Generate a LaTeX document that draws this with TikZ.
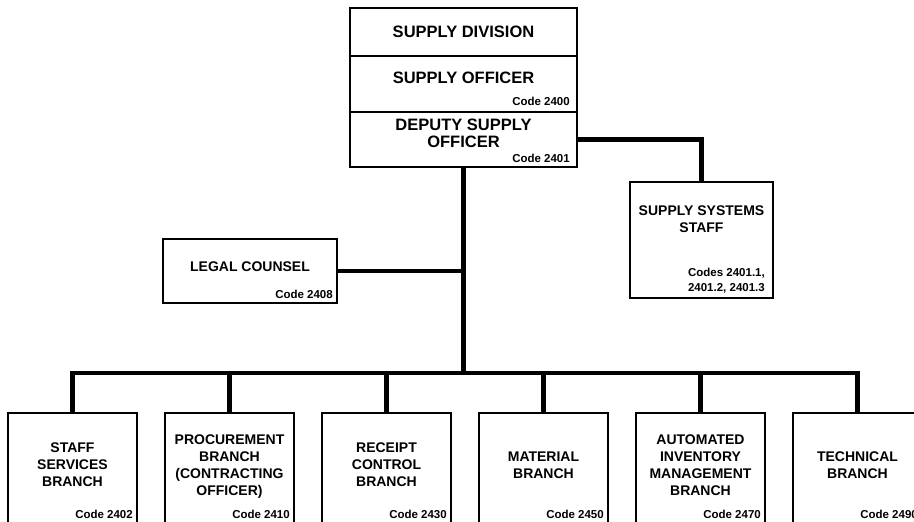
\documentclass[tikz,border=0pt]{standalone}
\usepackage{fontspec}
\setmainfont{Liberation Sans}
\usepackage{tikz}
\usetikzlibrary{positioning}

\begin{document}
\begin{tikzpicture}[
  x=1pt, y=1pt,
  node distance=0pt and 28pt,
  box/.style={rectangle, draw, line width=1.3pt, align=center, inner sep=0pt,
    outer sep=0pt, font=\bfseries\fontsize{14}{17}\selectfont},
  head/.style={box, minimum width=227pt, font=\bfseries\fontsize{16.5}{17}\selectfont},
  branch/.style={box, minimum width=129pt, minimum height=112pt, text depth=8pt},
  code/.style={anchor=south east, inner sep=0pt, align=right,
    font=\bfseries\fontsize{11.5}{14.5}\selectfont},
  link/.style={line width=4.5pt}
]
  \useasboundingbox (0,0) rectangle (914,522);

  % head of the division
  \node[head, minimum height=48pt] (sdiv) at (463.5,490) {SUPPLY DIVISION};
  \node[head, minimum height=56pt, text depth=12pt, below=of sdiv] (so) {SUPPLY OFFICER};
  \node[head, minimum height=55pt, text depth=12pt, below=of so] (dso) {DEPUTY SUPPLY\\OFFICER};
  \node[code] (c2400) at ([shift={(-7,6)}]so.south east) {Code 2400};
  \node[code] (c2401) at ([shift={(-7,4)}]dso.south east) {Code 2401};

  % staff
  \node[box, minimum width=143pt, minimum height=116pt, text depth=41pt] (sss) at (701.5,282) {SUPPLY SYSTEMS\\STAFF};
  \node[code] (csss) at ([shift={(-8,5)}]sss.south east) {Codes 2401.1,\\2401.2, 2401.3};
  \node[box, minimum width=174pt, minimum height=64pt, text depth=8pt] (legal) at (250,251) {LEGAL COUNSEL};
  \node[code] (c2408) at ([shift={(-4,4)}]legal.south east) {Code 2408};

  % branches
  \node[branch] (ssb) at (72.5,53) {STAFF\\SERVICES\\BRANCH};
  \node[branch, right=of ssb] (pb) {PROCUREMENT\\BRANCH\\(CONTRACTING\\OFFICER)};
  \node[branch, right=of pb] (rcb) {RECEIPT\\CONTROL\\BRANCH};
  \node[branch, right=of rcb] (mb) {MATERIAL\\BRANCH};
  \node[branch, right=of mb] (aimb) {AUTOMATED\\INVENTORY\\MANAGEMENT\\BRANCH};
  \node[branch, right=of aimb] (tb) {TECHNICAL\\BRANCH};
  \node[code] (c2402) at ([shift={(-4,6)}]ssb.south east) {Code 2402};
  \node[code] (c2410) at ([shift={(-4,6)}]pb.south east) {Code 2410};
  \node[code] (c2430) at ([shift={(-4,6)}]rcb.south east) {Code 2430};
  \node[code] (c2450) at ([shift={(-4,6)}]mb.south east) {Code 2450};
  \node[code] (c2470) at ([shift={(-4,6)}]aimb.south east) {Code 2470};
  \node[code] (c2490) at ([shift={(-4,6)}]tb.south east) {Code 2490};

  \coordinate (bus) at (463.5,149);
  \draw[link] (dso.south) -- (bus);
  \draw[link] (legal.east) -- (legal.east -| dso.south);
  \draw[link] (dso.east) -| (sss.north);
  \draw[link] (ssb.north) |- (bus) -| (tb.north);
  \foreach \b in {pb,rcb,mb,aimb}
    \draw[link] (\b.north) -- (\b.north |- bus);
\end{tikzpicture}
\end{document}
